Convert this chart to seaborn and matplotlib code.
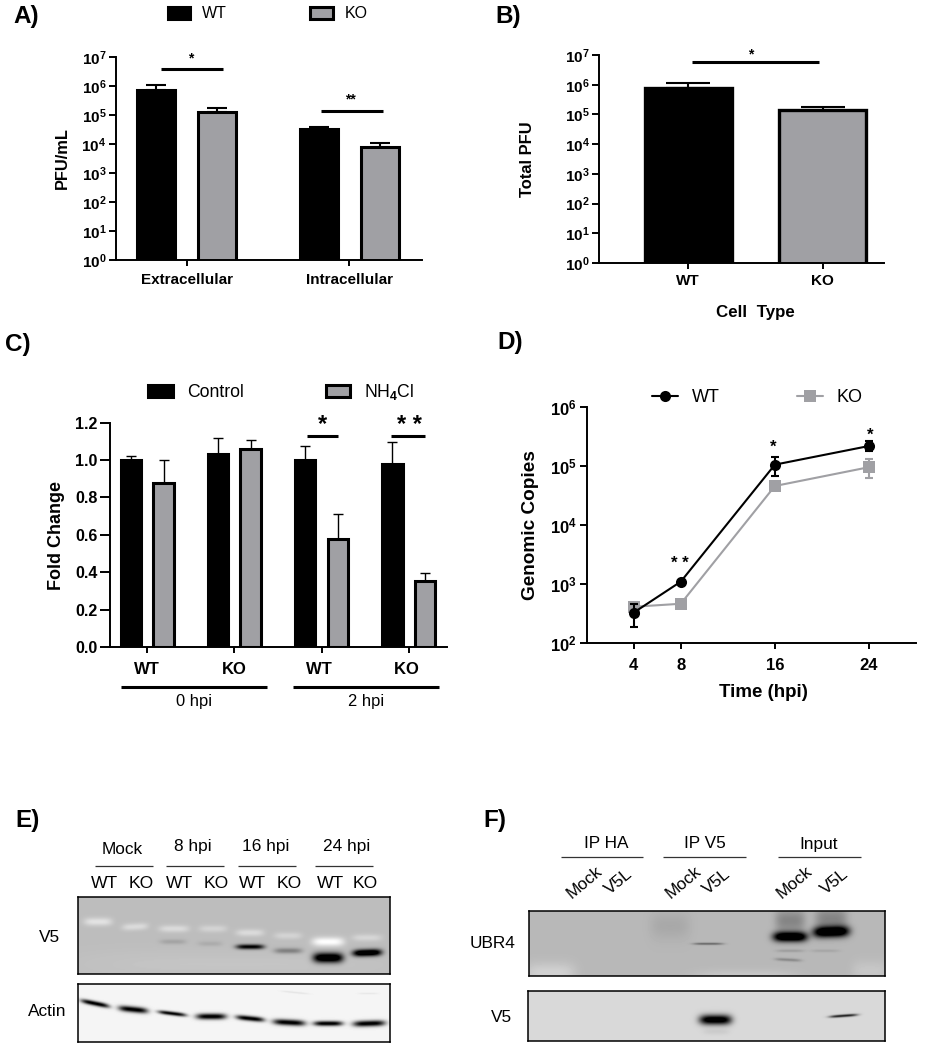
import matplotlib
matplotlib.use('Agg')
import matplotlib.pyplot as plt
from matplotlib.lines import Line2D
from matplotlib.ticker import LogFormatterMathtext
import numpy as np
import pandas as pd
import seaborn as sns

W, H = 946, 1050
BLACK = '#000000'
GRAY = '#a0a0a4'

# panel A
a_sites = ['Extracellular', 'Intracellular']
a_wt = [7.3e5, 3.2e4]
a_wt_top = [1.08e6, 4.0e4]
a_ko = [1.3e5, 8.0e3]
a_ko_top = [1.8e5, 1.1e4]

# panel B
b_cells = ['WT', 'KO']
b_vals = [7.9e5, 1.42e5]
b_tops = [1.12e6, 1.83e5]

# panel C
c_groups = ['WT', 'KO', 'WT ', 'KO ']
c_control = [1.0, 1.035, 1.0, 0.98]
c_control_top = [1.02, 1.12, 1.075, 1.097]
c_nh4cl = [0.88, 1.06, 0.58, 0.355]
c_nh4cl_top = [1.0, 1.105, 0.71, 0.395]

# panel D
d_hours = [4, 8, 16, 24]
d_wt = [325, 1090, 1.06e5, 2.2e5]
d_wt_low = [187, 1090, 6.8e4, 1.8e5]
d_wt_high = [454, 1090, 1.45e5, 2.7e5]
d_ko = [408, 459, 4.6e4, 9.6e4]
d_ko_low = [337, 459, 4.6e4, 6.2e4]
d_ko_high = [497, 459, 4.6e4, 1.3e5]

# blots: centre x, centre y, half width, half height, darkening, slope
e_v5_bands = [
    (98, 922, 14, 4, -0.15, 0.0), (135, 927, 13, 3.5, -0.12, -0.05), (174, 929, 15, 3.5, -0.12, 0.0),
    (213, 929, 14, 3.5, -0.09, 0.0), (250, 933, 14, 3.5, -0.12, 0.0), (288, 936, 14, 3.5, -0.09, 0.0),
    (328, 942, 16, 4.5, -0.26, 0.0), (367, 938, 15, 3.5, -0.1, 0.0),
    (173, 942, 13, 2.5, 0.1, 0.0), (210, 944, 12, 2.5, 0.07, 0.0), (250, 947, 14, 2.5, 0.75, 0.0),
    (288, 951, 14, 2.8, 0.25, 0.0), (328, 958, 15, 5, 1.0, 0.0), (367, 953, 14.5, 3.5, 1.0, -0.03),
    (234, 965, 160, 14, -0.03, 0.0),
]
e_actin_bands = [
    (95, 1003, 14, 2.4, 1.0, 0.2), (133, 1009, 14.5, 3, 1.0, 0.1), (172, 1013, 14, 2, 0.95, 0.12),
    (211, 1016, 15, 3, 1.0, 0.0), (250, 1018, 14, 2.5, 1.0, 0.1), (289, 1022, 16, 3, 1.0, 0.05),
    (328, 1023, 14.5, 2.5, 1.0, 0.0), (369, 1023, 16, 3, 1.0, -0.03),
    (295, 992, 14, 1, 0.06, 0.1), (368, 993, 10, 1, 0.05, 0.0),
]
f_ubr4_bands = [
    (790, 920, 15, 12, 0.2, 0.0), (831, 918, 16, 12, 0.2, 0.0),
    (790, 936, 17, 5, 1.0, 0.0), (831, 931, 18, 5.5, 1.0, -0.03),
    (708, 943, 15, 1.2, 0.3, 0.0), (788, 959, 13, 1.6, 0.18, 0.05), (790, 950, 14, 1.5, 0.1, 0.0),
    (825, 950, 14, 1.5, 0.07, 0.0),
    (550, 972, 25, 10, -0.1, 0.0), (670, 925, 20, 14, 0.06, 0.0),
    (870, 970, 18, 10, -0.06, 0.0), (745, 975, 50, 6, -0.06, 0.0),
]
f_v5_bands = [(715, 1020, 16, 5, 1.0, 0.0), (843, 1016, 14, 1.4, 0.7, -0.07), (716, 1032, 13, 3, 0.05, 0.0)]

sns.set_theme(style='ticks')
plt.rcParams['font.family'] = ['Liberation Sans']
plt.rcParams['mathtext.fontset'] = 'custom'
plt.rcParams['mathtext.rm'] = 'Liberation Sans:bold'
plt.rcParams['mathtext.it'] = 'Liberation Sans'
plt.rcParams['mathtext.default'] = 'rm'
plt.rcParams['text.color'] = 'black'
plt.rcParams['axes.labelcolor'] = 'black'
plt.rcParams['axes.edgecolor'] = 'black'
plt.rcParams['axes.linewidth'] = 1.4
plt.rcParams['xtick.color'] = 'black'
plt.rcParams['ytick.color'] = 'black'

fig = plt.figure(figsize=(W / 100, H / 100), dpi=100, facecolor='white')


def fx(x):
    return x / W


def fy(y):
    return 1 - y / H


def make_axes(left, top, right, bottom):
    ax = fig.add_axes([fx(left), fy(bottom), (right - left) / W, (bottom - top) / H])
    ax.set_facecolor('none')
    return ax


def label(x, y, text, size=12, weight='normal', **kw):
    kw.setdefault('ha', 'center')
    kw.setdefault('va', 'center')
    return fig.text(fx(x), fy(y), text, fontsize=size, fontweight=weight, **kw)


def rule(x0, x1, y, lw=2.2, color='black'):
    fig.add_artist(Line2D([fx(x0), fx(x1)], [fy(y), fy(y)], color=color, lw=lw, solid_capstyle='butt'))


def style_axes(ax, tick_size, x_size, ylen=5, xlen=4, xpad=5):
    sns.despine(ax=ax)
    ax.tick_params(axis='y', which='major', length=ylen, width=1.4, labelsize=tick_size, pad=2)
    ax.tick_params(axis='x', which='major', length=xlen, width=1.4, labelsize=x_size, pad=xpad)
    ax.tick_params(which='minor', length=0)
    for tick in ax.get_xticklabels() + ax.get_yticklabels():
        tick.set_fontweight('bold')


def log_axis(ax, low, high):
    ax.set_ylim(low, high)
    ax.yaxis.set_major_formatter(LogFormatterMathtext())
    ax.set_yticks([10.0 ** i for i in range(int(np.log10(low)), int(np.log10(high)) + 1)])
    ax.minorticks_off()


def y_title(ax, text, x, y, size):
    ax.set_ylabel(text, fontsize=size, fontweight='bold', va='center')
    ax.yaxis.set_label_coords(fx(x), fy(y), transform=fig.transFigure)


def x_title(ax, text, x, y, size):
    ax.set_xlabel(text, fontsize=size, fontweight='bold', va='center')
    ax.xaxis.set_label_coords(fx(x), fy(y), transform=fig.transFigure)


def top_errors(ax, container, tops, lw, cap, color='black'):
    for bar, top in zip(container, tops):
        x = bar.get_x() + bar.get_width() / 2
        y = bar.get_height()
        ax.errorbar([x], [y], yerr=[[0], [top - y]], color=color, elinewidth=lw, capsize=cap, capthick=lw, zorder=1)


def group_bars(ax, names, first, second, hues, gap, edge):
    table = pd.DataFrame({
        'group': names + names,
        'value': first + second,
        'kind': [hues[0]] * len(names) + [hues[1]] * len(names),
    })
    sns.barplot(data=table, x='group', y='value', hue='kind', hue_order=hues,
                palette=[BLACK, GRAY], width=0.75, gap=gap, edgecolor='black', linewidth=edge,
                errorbar=None, legend=False, ax=ax, saturation=1, zorder=2)


def top_legend(handles, names, x, y, size, hlen, pad, space, hheight=0.7):
    fig.legend(handles, names, ncol=len(names), frameon=False, loc='center left',
               bbox_to_anchor=(fx(x), fy(y)), borderpad=0, borderaxespad=0, fontsize=size,
               handlelength=hlen, handleheight=hheight, handletextpad=pad, columnspacing=space)


def blot(left, top, right, bottom, base, bands):
    xs, ys = np.meshgrid(np.arange(left, right, 1.0), np.arange(top, bottom, 1.0))
    img = np.full(xs.shape, base, dtype=float)
    for cx, cy, hw, hh, amount, slope in bands:
        dx = (xs - cx) / hw
        dy = (ys - cy - slope * (xs - cx)) / hh
        img -= amount * np.exp(-dx ** 4) * np.exp(-dy ** 2)
    ax = make_axes(left, top, right, bottom)
    ax.imshow(np.clip(img, 0, 1), cmap='gray', vmin=0, vmax=1, aspect='auto', interpolation='bilinear')
    ax.set_xticks([])
    ax.set_yticks([])
    for spine in ax.spines.values():
        spine.set_visible(True)
        spine.set_linewidth(1.1)
    return ax


# A
ax = make_axes(116, 57, 422, 260)
ax.set_yscale('log')
group_bars(ax, a_sites, a_wt, a_ko, ['WT', 'KO'], 0.37, 2.2)
top_errors(ax, ax.containers[0], a_wt_top, 1.5, 7)
top_errors(ax, ax.containers[1], a_ko_top, 1.5, 7)
ax.set_xlim(-0.435, 1.447)
log_axis(ax, 1, 1e7)
ax.set_xlabel('')
y_title(ax, 'PFU/mL', 62, 158, 11.8)
style_axes(ax, 11, 11)
top_legend(ax.containers[:2], ['WT', 'KO'], 168, 14, 11.5, 1.4, 0.75, 5.2)
rule(160.7, 222.7, 69)
rule(320.7, 382.7, 111)
label(191, 58, '*', 10, 'bold')
label(350.7, 99, '**', 10, 'bold')

# B
ax = make_axes(599.3, 55, 884, 263)
ax.set_yscale('log')
sns.barplot(x=b_cells, y=b_vals, hue=b_cells, palette=[BLACK, GRAY], width=0.645, edgecolor='black', linewidth=2.4,
            errorbar=None, legend=False, ax=ax, saturation=1, zorder=2)
top_errors(ax, [c[0] for c in ax.containers], b_tops, 1.5, 16)
ax.set_xlim(-0.662, 1.456)
log_axis(ax, 1, 1e7)
y_title(ax, 'Total PFU', 528, 159, 11.9)
x_title(ax, 'Cell  Type', 755, 313, 12.2)
style_axes(ax, 11, 11, xpad=4)
rule(691.7, 819.3, 62)
label(751, 54, '*', 10, 'bold')

# C
ax = make_axes(110, 422.7, 447, 647)
group_bars(ax, c_groups, c_control, c_nh4cl, ['Control', 'NH4Cl'], 0.37, 2.2)
top_errors(ax, ax.containers[0], c_control_top, 1.0, 3.6)
top_errors(ax, ax.containers[1], c_nh4cl_top, 1.0, 3.6)
ax.set_xlim(-0.428, 3.44)
ax.set_ylim(0, 1.2)
ax.set_yticks([0, 0.2, 0.4, 0.6, 0.8, 1.0, 1.2])
ax.set_xlabel('')
y_title(ax, 'Fold Change', 56.7, 535, 13)
style_axes(ax, 11.6, 12, ylen=7, xpad=7)
top_legend(ax.containers[:2], ['Control', r'NH$_{\mathit{4}}$Cl'], 148.3, 392, 12.7, 1.38, 0.8, 4.65)
rule(121.3, 266.7, 686.7)
rule(293.3, 438.7, 686.7)
label(193.7, 701.7, '0 hpi', 11.9)
label(366, 701.7, '2 hpi', 11.9)
rule(306.7, 337.7, 436)
rule(391, 425, 436)
label(322.7, 425, '*', 17, 'bold')
label(409.3, 425, '* *', 17, 'bold')

# D
ax = make_axes(586.7, 407.3, 916, 642.7)
ax.set_xscale('linear')
ax.set_yscale('log')
lines = pd.DataFrame({
    'hour': d_hours + d_hours,
    'copies': d_ko + d_wt,
    'cell': ['KO'] * 4 + ['WT'] * 4,
})
sns.lineplot(data=lines, x='hour', y='copies', hue='cell', style='cell', hue_order=['KO', 'WT'],
             style_order=['KO', 'WT'], palette=[GRAY, BLACK], markers=['s', 'o'], dashes=False, markersize=8,
             markeredgewidth=0, linewidth=1.5, errorbar=None, legend=False, ax=ax, zorder=3)
ko_line, wt_line = ax.get_lines()[:2]
ax.errorbar(d_hours, d_ko, yerr=[np.subtract(d_ko, d_ko_low), np.subtract(d_ko_high, d_ko)], fmt='none',
            ecolor=GRAY, elinewidth=1.5, capsize=3.2, capthick=1.5, zorder=2)
ax.errorbar(d_hours, d_wt, yerr=[np.subtract(d_wt, d_wt_low), np.subtract(d_wt_high, d_wt)], fmt='none',
            ecolor='black', elinewidth=1.5, capsize=3.2, capthick=1.5, zorder=4)
ax.set_xlim(0, 28)
ax.set_xticks(d_hours)
log_axis(ax, 1e2, 1e6)
y_title(ax, 'Genomic Copies', 530, 525, 13.7)
x_title(ax, 'Time (hpi)', 763, 692.7, 13.5)
style_axes(ax, 12, 12, ylen=5, xlen=4, xpad=7)
top_legend([wt_line, ko_line], ['WT', 'KO'], 652, 398, 13, 1.45, 0.75, 4.3)
label(680, 564, '* *', 12, 'bold')
label(773.5, 447, '*', 12, 'bold')
label(870, 435, '*', 12, 'bold')

# E
for name, x, y in zip(['Mock', '8 hpi', '16 hpi', '24 hpi'], [122, 193, 266, 347], [850, 847, 847, 847]):
    label(x, y, name, 12.4)
for x0, x1 in [(95, 153), (166, 224), (238, 296), (315, 373)]:
    rule(x0, x1, 865.7, lw=0.9, color='#333333')
for name, x in zip(['WT', 'KO'] * 4, [104, 141, 179, 216, 252, 289, 330, 365]):
    label(x, 883, name, 12.6)
blot(78.3, 896.7, 390, 974.3, 0.74, e_v5_bands)
blot(78.3, 984, 390, 1042, 0.96, e_actin_bands)
label(49, 937, 'V5', 12.4)
label(47, 1012, 'Actin', 12.4)

# F
for name, x in zip(['IP HA', 'IP V5', 'Input'], [606, 705, 819]):
    label(x, 844, name, 12.4)
for x0, x1 in [(560.7, 643), (663, 745.7), (778, 861)]:
    rule(x0, x1, 857, lw=0.9, color='#333333')
for name, x in zip(['Mock', 'V5L'] * 3, [584, 619, 683, 717, 794, 835]):
    label(x, 882, name, 12.4, rotation=40)
blot(529.3, 910.7, 884.7, 975.7, 0.72, f_ubr4_bands)
blot(528, 990.7, 885, 1041, 0.85, f_v5_bands)
label(493, 944, 'UBR4', 12.4)
label(501, 1017, 'V5', 12.4)

# panel letters
for name, x, y in [('A)', 13, 17), ('B)', 495, 17), ('C)', 5, 345), ('D)', 497, 342), ('E)', 15, 821), ('F)', 483, 821)]:
    label(x, y, name, 17.5, 'bold', ha='left')

fig.savefig('out.png', dpi=100, facecolor='white')
